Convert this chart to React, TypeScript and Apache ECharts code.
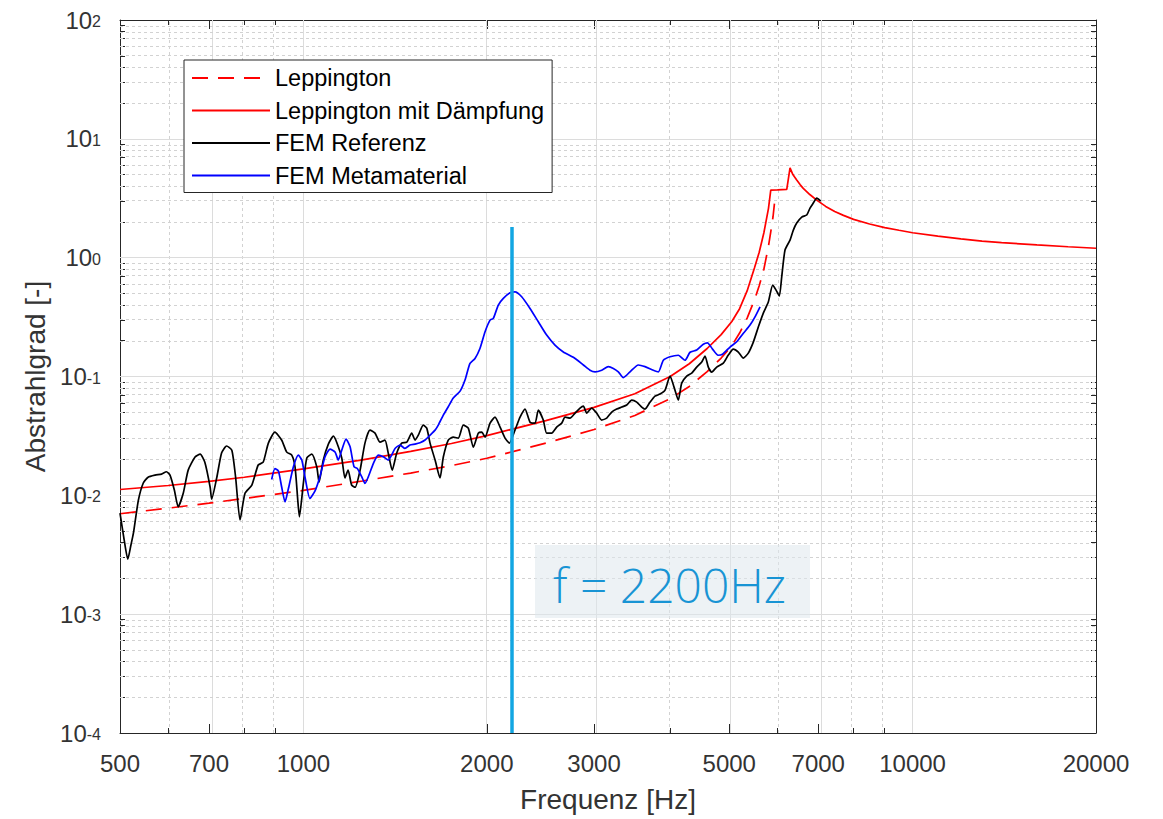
import React, { useEffect, useRef } from 'react';
import * as echarts from 'echarts';

// ---------- data ----------
const lepFreq = [500, 600, 700, 800, 1000, 1250, 1500, 1750, 2000, 2500, 3000, 3500, 4000, 4300, 4600, 4850, 5050, 5200, 5350, 5500, 5600, 5700, 5800, 5850, 5900, 5950];
const lepVal = [0.0070, 0.0078, 0.0086, 0.0094, 0.0110, 0.0132, 0.0154, 0.0178, 0.0205, 0.0275, 0.0358, 0.0470, 0.0650, 0.0825, 0.110, 0.143, 0.182, 0.232, 0.31, 0.44, 0.58, 0.80, 1.25, 1.65, 2.2, 3.3];

const lepDFreq = [500, 600, 700, 800, 1000, 1250, 1500, 1750, 2000, 2500, 3000, 3500, 4000, 4300, 4600, 4850, 5050, 5200, 5350, 5500, 5600, 5700, 5800, 5850, 6000, 6215, 6292, 6360, 6453, 6540, 6615, 6780, 6960, 7200, 7450, 7700, 8000, 8500, 9000, 9500, 10000, 11000, 12000, 13000, 14000, 16000, 18000, 20000];
const lepDVal = [0.0112, 0.0121, 0.0131, 0.0142, 0.0167, 0.0199, 0.0234, 0.0273, 0.0318, 0.0425, 0.055, 0.0715, 0.100, 0.128, 0.172, 0.225, 0.29, 0.372, 0.525, 0.82, 1.11, 1.62, 2.6, 3.7, 3.72, 3.75, 5.7, 5.0, 4.5, 4.1, 3.83, 3.4, 3.05, 2.7, 2.45, 2.27, 2.1, 1.92, 1.79, 1.70, 1.62, 1.52, 1.44, 1.38, 1.34, 1.28, 1.235, 1.2];

const refFreq = [500, 508, 515, 521, 526, 536, 546, 556, 571, 585,
  596, 604, 614, 623, 635, 647, 664, 677, 689, 703,
  707, 721, 734, 748, 763, 774, 787, 802, 823, 843,
  859, 876, 898, 921, 939, 957, 969, 979, 985, 1000,
  1013, 1032, 1052, 1061, 1078, 1099, 1120, 1134, 1156, 1170,
  1184, 1200, 1216, 1239, 1262, 1286, 1311, 1336, 1361, 1378,
  1399, 1423, 1450, 1478, 1506, 1525, 1544, 1573, 1594, 1614,
  1645, 1676, 1697, 1729, 1762, 1796, 1830, 1865, 1901, 1937,
  1962, 1987, 2025, 2063, 2103, 2143, 2178, 2225, 2268, 2311,
  2355, 2400, 2430, 2476, 2508, 2556, 2605, 2655, 2688, 2739,
  2792, 2845, 2881, 2918, 2973, 3030, 3088, 3147, 3207, 3268,
  3331, 3394, 3459, 3525, 3592, 3637, 3707, 3777, 3849, 3923,
  3998, 4059, 4125, 4178, 4258, 4339, 4422, 4507, 4563, 4620,
  4680, 4769, 4890, 4983, 5078, 5175, 5274, 5374, 5477, 5581,
  5688, 5796, 5894, 5968, 6042, 6097, 6174, 6292, 6371, 6453,
  6577, 6702, 6786, 6871, 6960, 7066];
const refVal = [0.00708, 0.0042, 0.0029, 0.0038, 0.0048, 0.0091, 0.0127, 0.0142, 0.0148, 0.0151,
  0.0158, 0.0148, 0.0111, 0.0080, 0.0104, 0.0163, 0.0210, 0.0222, 0.0190, 0.0117,
  0.0093, 0.0142, 0.0227, 0.0260, 0.0240, 0.0142, 0.0062, 0.0104, 0.0122, 0.0180,
  0.0190, 0.0275, 0.0340, 0.0292, 0.0231, 0.0218, 0.0173, 0.0091, 0.0066, 0.0127,
  0.0206, 0.0222, 0.0173, 0.0129, 0.0198, 0.0270, 0.0315, 0.0280, 0.0206, 0.0140,
  0.0163, 0.0122, 0.0117, 0.0163, 0.0275, 0.0354, 0.0334, 0.0280, 0.0292, 0.0227,
  0.0163, 0.0227, 0.0275, 0.0280, 0.0334, 0.0292, 0.0321, 0.0390, 0.0368, 0.0275,
  0.0198, 0.0140, 0.0210, 0.0292, 0.0309, 0.0303, 0.0390, 0.0368, 0.0254, 0.0334,
  0.0340, 0.0309, 0.0405, 0.0455, 0.0375, 0.0303, 0.0275, 0.0354, 0.0455, 0.0532,
  0.0413, 0.0405, 0.0521, 0.0430, 0.0334, 0.0334, 0.0375, 0.0405, 0.0455, 0.0447,
  0.0492, 0.0542, 0.0563, 0.0492, 0.0542, 0.0492, 0.0430, 0.0447, 0.0502, 0.0532,
  0.0553, 0.0575, 0.0633, 0.0609, 0.0553, 0.0532, 0.0609, 0.0684, 0.0711, 0.0768,
  0.1008, 0.0814, 0.0633, 0.0880, 0.1008, 0.1068, 0.1200, 0.1322, 0.1485, 0.1200,
  0.1089, 0.1200, 0.1297, 0.1514, 0.1700, 0.1605, 0.1429, 0.1574, 0.1948, 0.2605,
  0.3418, 0.4229, 0.5880, 0.5337, 0.4751, 0.6865, 1.159, 1.406, 1.707, 1.955,
  2.197, 2.284, 2.615, 2.882, 3.176, 2.995];

const metaFreq = [887, 898, 910, 921, 933, 945, 963, 981, 994, 1006,
  1025, 1045, 1065, 1085, 1106, 1127, 1141, 1156, 1175, 1193,
  1211, 1226, 1247, 1262, 1278, 1303, 1327, 1353, 1378, 1396,
  1414, 1441, 1468, 1496, 1525, 1554, 1584, 1614, 1645, 1665,
  1697, 1729, 1762, 1808, 1842, 1877, 1913, 1949, 1987, 2025,
  2050, 2089, 2129, 2184, 2225, 2282, 2355, 2430, 2508, 2588,
  2671, 2774, 2881, 2954, 3011, 3088, 3166, 3227, 3288, 3351,
  3437, 3546, 3637, 3753, 3825, 3898, 3998, 4125, 4231, 4312,
  4422, 4534, 4606, 4694, 4793, 4875, 5015, 5144, 5274, 5409,
  5512, 5618];
const metaVal = [0.0136, 0.0168, 0.0160, 0.0118, 0.0088, 0.0114, 0.0174, 0.0218, 0.0198, 0.0143,
  0.0094, 0.0109, 0.0145, 0.0210, 0.0245, 0.0232, 0.0198, 0.0240, 0.0297, 0.0256,
  0.0174, 0.0168, 0.0143, 0.0126, 0.0143, 0.0186, 0.0218, 0.0211, 0.0198, 0.0218,
  0.0248, 0.0265, 0.0248, 0.0265, 0.0270, 0.0277, 0.0292, 0.0321, 0.0354, 0.0390,
  0.0473, 0.0556, 0.0658, 0.0753, 0.0933, 0.129, 0.142, 0.172, 0.238, 0.298,
  0.308, 0.399, 0.454, 0.506, 0.516, 0.469, 0.374, 0.289, 0.223, 0.184,
  0.161, 0.145, 0.125, 0.113, 0.1095, 0.113, 0.121, 0.117, 0.1095, 0.098,
  0.1095, 0.125, 0.121, 0.113, 0.1095, 0.137, 0.1465, 0.151, 0.137, 0.160,
  0.167, 0.187, 0.192, 0.170, 0.151, 0.154, 0.177, 0.196, 0.231, 0.271,
  0.318, 0.386];

const xRange = [500, 20000];
const yExpRange = [-4, 2];
const xLabelTicks = [500, 700, 1000, 2000, 3000, 5000, 7000, 10000, 20000];
const xMajorTicks = [700, 1000, 2000, 3000, 5000, 7000, 10000];
const xMinorTicks = [600, 800, 900, 4000, 6000, 8000, 9000];
const yDecadeExps = [-4, -3, -2, -1, 0, 1, 2];
const yMinorMult = [2, 3, 4, 5, 6, 7, 8, 9];

const markerFreq = 2200;
const markerBottom = 1e-4;
const markerTop = 1.81;
const markerText = 'f = 2200Hz';

const seriesNames = ['Leppington', 'Leppington mit Dämpfung', 'FEM Referenz', 'FEM Metamaterial'];

// ---------- helpers ----------
const lg = (v: number) => Math.log10(v);
const pairs = (fs: number[], vs: number[]) => fs.map((f, i) => [lg(f), lg(vs[i])]);

const FONT = '"Liberation Sans", Arial, Helvetica, sans-serif';
const AX = '#262626';
const TXT = '#333333';

export default function App() {
  const ref = useRef<HTMLDivElement | null>(null);

  useEffect(() => {
    if (!ref.current) return;
    const chart = echarts.init(ref.current, undefined, { renderer: 'svg' });

    const yMinorVals: number[] = [];
    for (let d = yExpRange[0]; d < yExpRange[1]; d++) {
      yMinorMult.forEach((m) => yMinorVals.push(lg(m) + d));
    }
    const majorGrid = { color: '#dcdcdc', width: 1, type: 'solid' };
    const minorGrid = { color: '#d2d2d2', width: 1, type: [3, 3] };
    const gridMarks = [
      ...xMajorTicks.map((v) => ({ xAxis: lg(v), lineStyle: majorGrid })),
      ...xMinorTicks.map((v) => ({ xAxis: lg(v), lineStyle: minorGrid })),
      ...yDecadeExps.filter((e) => e > yExpRange[0] && e < yExpRange[1]).map((e) => ({ yAxis: e, lineStyle: majorGrid })),
      ...yMinorVals.map((v) => ({ yAxis: v, lineStyle: minorGrid })),
    ];

    const baseX = {
      type: 'value',
      min: lg(xRange[0]),
      max: lg(xRange[1]),
      splitLine: { show: false },
      axisLabel: { show: false },
      axisLine: { show: false, onZero: false },
    };
    const baseY = {
      type: 'value',
      min: yExpRange[0],
      max: yExpRange[1],
      splitLine: { show: false },
      axisLabel: { show: false },
      axisLine: { show: false, onZero: false },
    };
    const tickMaj = (vals: number[]) => ({ show: true, inside: true, length: 9, customValues: vals, lineStyle: { color: AX, width: 1 } });
    const tickMin = (vals: number[]) => ({ show: true, inside: true, length: 5, customValues: vals, lineStyle: { color: AX, width: 1 } });

    const xMaj = xMajorTicks.map(lg);
    const xMin = xMinorTicks.map(lg);

    const option: any = {
      animation: false,
      backgroundColor: '#ffffff',
      textStyle: { fontFamily: FONT },
      grid: { left: 120, right: 67, top: 20, bottom: 86, containLabel: false, outerBoundsMode: 'none' },
      xAxis: [
        {
          ...baseX,
          position: 'bottom',
          axisLine: { show: true, onZero: false, lineStyle: { color: AX, width: 1 } },
          axisTick: tickMaj(xMaj),
          axisLabel: {
            show: true,
            customValues: xLabelTicks.map(lg),
            formatter: (v: number) => String(Math.round(Math.pow(10, v))),
            margin: 18,
            fontSize: 24,
            color: TXT,
            fontFamily: FONT,
          },
          name: 'Frequenz [Hz]',
          nameLocation: 'middle',
          nameGap: 52,
          nameTextStyle: { fontSize: 28, color: TXT, fontFamily: FONT },
        },
        { ...baseX, position: 'bottom', axisTick: tickMin(xMin) },
        { ...baseX, position: 'top', axisLine: { show: true, onZero: false, lineStyle: { color: AX, width: 1 } }, axisTick: tickMaj(xMaj) },
        { ...baseX, position: 'top', axisTick: tickMin(xMin) },
      ],
      yAxis: [
        {
          ...baseY,
          position: 'left',
          axisLine: { show: true, onZero: false, lineStyle: { color: AX, width: 1 } },
          axisTick: tickMaj(yDecadeExps),
          axisLabel: {
            show: true,
            customValues: yDecadeExps,
            margin: 19,
            formatter: (v: number) => `{b|10}{s|${Math.round(v)}}`,
            rich: {
              b: { fontSize: 24, lineHeight: 24, verticalAlign: 'bottom', color: TXT, fontFamily: FONT },
              s: { fontSize: 16, lineHeight: 16, verticalAlign: 'top', padding: [5.5, 0, 13.5, 0], color: TXT, fontFamily: FONT },
            },
          },
          name: 'Abstrahlgrad [-]',
          nameLocation: 'middle',
          nameRotate: 90,
          nameGap: 70,
          nameTextStyle: { fontSize: 28, color: TXT, fontFamily: FONT },
        },
        { ...baseY, position: 'left', axisTick: tickMin(yMinorVals) },
        { ...baseY, position: 'right', axisLine: { show: true, onZero: false, lineStyle: { color: AX, width: 1 } }, axisTick: tickMaj(yDecadeExps) },
        { ...baseY, position: 'right', axisTick: tickMin(yMinorVals) },
      ],
      legend: {
        data: seriesNames,
        orient: 'vertical',
        left: 184,
        top: 60,
        itemWidth: 78,
        itemHeight: 14,
        itemGap: 8.5,
        padding: [6, 8, 5, 7],
        backgroundColor: '#ffffff',
        borderColor: AX,
        borderWidth: 1,
        borderRadius: 0,
        selectedMode: false,
        itemStyle: { opacity: 0 },
        textStyle: { fontSize: 23.5, lineHeight: 23.5, color: '#000000', fontFamily: FONT },
      },
      series: [
        {
          name: 'grid',
          type: 'line',
          data: [],
          silent: true,
          markLine: {
            silent: true,
            z: 1,
            symbol: ['none', 'none'],
            label: { show: false },
            animation: false,
            data: gridMarks,
          },
        },
        {
          name: seriesNames[0],
          type: 'line',
          data: pairs(lepFreq, lepVal),
          symbol: 'none',
          z: 3,
          lineStyle: { color: '#ff0000', width: 1.7, type: [16, 10] },
          itemStyle: { color: '#ff0000' },
        },
        {
          name: seriesNames[1],
          type: 'line',
          data: pairs(lepDFreq, lepDVal),
          symbol: 'none',
          z: 3,
          lineStyle: { color: '#ff0000', width: 1.7 },
          itemStyle: { color: '#ff0000' },
        },
        {
          name: seriesNames[2],
          type: 'line',
          data: pairs(refFreq, refVal),
          symbol: 'none',
          smooth: 0.2,
          z: 3,
          lineStyle: { color: '#000000', width: 1.7 },
          itemStyle: { color: '#000000' },
        },
        {
          name: seriesNames[3],
          type: 'line',
          data: pairs(metaFreq, metaVal),
          symbol: 'none',
          smooth: 0.2,
          z: 3,
          lineStyle: { color: '#0000ff', width: 1.7 },
          itemStyle: { color: '#0000ff' },
        },
        {
          name: 'marker',
          type: 'line',
          data: [[lg(markerFreq), lg(markerBottom)], [lg(markerFreq), lg(markerTop)]],
          symbol: 'none',
          z: 6,
          silent: true,
          lineStyle: { color: '#12a6e2', width: 3.5 },
        },
      ],
      graphic: [
        {
          type: 'rect',
          left: 535,
          top: 545,
          z: 10,
          shape: { width: 275, height: 73 },
          style: { fill: 'rgba(222,232,236,0.55)' },
        },
        {
          type: 'text',
          x: 553,
          y: 584,
          z: 11,
          style: {
            text: markerText,
            fontSize: 48,
            fontFamily: '"Open Sans", "Noto Sans", sans-serif',
            fontWeight: 300,
            fill: '#1894d4',
            align: 'left',
            verticalAlign: 'middle',
          },
        },
      ],
    };

    chart.setOption(option);
    return () => chart.dispose();
  }, []);

  return (
    <div
      ref={ref}
      style={{ position: 'fixed', left: 0, top: 0, width: 1163, height: 819, background: '#ffffff' }}
    />
  );
}
